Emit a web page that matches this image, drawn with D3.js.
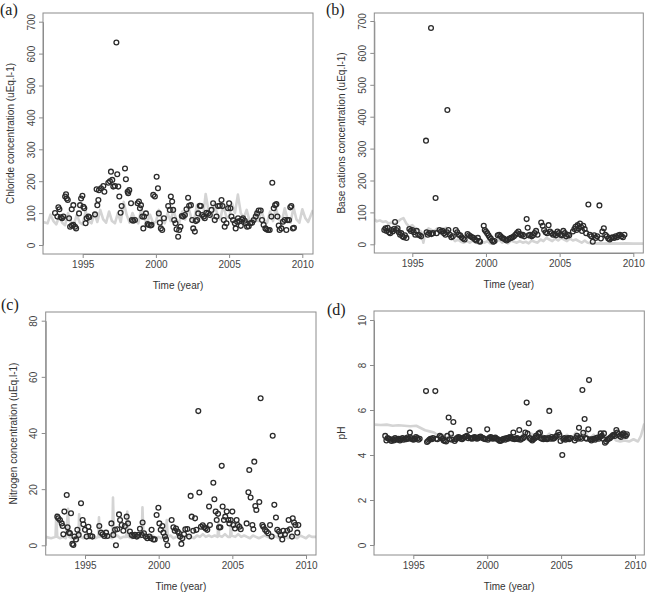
<!DOCTYPE html>
<html><head><meta charset="utf-8">
<script src="https://cdn.jsdelivr.net/npm/d3@7"></script>
<style>body{margin:0;background:#fff}</style>
</head><body>
<svg id="chart" width="649" height="593"></svg>
<script>
// ---------- DATA ----------
const xTicks = [1995, 2000, 2005, 2010];
const chlorideTicks = [0, 100, 200, 300, 400, 500, 600, 700];
const cationTicks = [0, 100, 200, 300, 400, 500, 600, 700];
const nitrogenTicks = [0, 20, 40, 60, 80];
const phTicks = [0, 2, 4, 6, 8, 10];
const panelLabels = ["(a)", "(b)", "(c)", "(d)"];
const yTitles = ["Chloride concentration (uEq.l-1)", "Base cations concentration (uEq.l-1)", "Nitrogen concentration (uEq.l-1)", "pH"];
const xTitle = "Time (year)";

const chlorideObs = [[1993.11,100],[1993.27,89],[1993.34,118],[1993.41,112],[1993.50,87],[1993.59,84],[1993.68,89],[1993.80,152],[1993.86,159],[1993.91,146],[1993.98,141],[1994.07,84],[1994.14,57],[1994.25,61],[1994.25,112],[1994.36,63],[1994.36,125],[1994.48,57],[1994.55,52],[1994.75,99],[1994.82,125],[1994.89,146],[1994.98,154],[1995.05,120],[1995.11,115],[1995.20,68],[1995.27,84],[1995.39,89],[1995.45,87],[1995.84,96],[1995.95,175],[1996.00,125],[1996.07,141],[1996.11,172],[1996.25,178],[1996.41,185],[1996.48,167],[1996.75,195],[1996.86,200],[1996.93,230],[1997.02,204],[1997.09,183],[1997.20,185],[1997.30,635],[1997.36,222],[1997.43,183],[1997.50,152],[1997.59,101],[1997.66,122],[1997.89,240],[1997.95,206],[1998.07,167],[1998.11,162],[1998.18,172],[1998.30,131],[1998.36,78],[1998.45,76],[1998.57,78],[1998.75,131],[1998.84,136],[1998.91,115],[1998.98,125],[1999.07,89],[1999.14,52],[1999.20,89],[1999.32,99],[1999.43,66],[1999.52,63],[1999.64,61],[1999.70,63],[1999.82,157],[1999.93,152],[2000.05,214],[2000.14,178],[2000.20,99],[2000.27,70],[2000.34,52],[2000.43,47],[2000.55,84],[2000.84,122],[2000.95,110],[2001.02,152],[2001.11,136],[2001.18,110],[2001.25,78],[2001.34,68],[2001.41,49],[2001.52,26],[2001.59,47],[2001.68,57],[2001.77,91],[2001.86,89],[2001.98,94],[2002.09,112],[2002.20,148],[2002.27,123],[2002.39,125],[2002.48,78],[2002.55,52],[2002.66,42],[2002.73,75],[2002.82,78],[2002.89,99],[2003.00,123],[2003.07,122],[2003.16,94],[2003.27,89],[2003.34,84],[2003.45,101],[2003.57,99],[2003.68,94],[2003.80,110],[2003.91,131],[2004.02,78],[2004.14,89],[2004.25,122],[2004.36,123],[2004.48,141],[2004.55,122],[2004.64,78],[2004.70,57],[2004.82,68],[2004.93,115],[2005.00,131],[2005.09,115],[2005.16,89],[2005.27,78],[2005.39,68],[2005.45,52],[2005.55,73],[2005.61,84],[2005.70,75],[2005.80,60],[2005.88,80],[2005.95,84],[2006.07,76],[2006.14,68],[2006.23,57],[2006.34,59],[2006.45,68],[2006.57,70],[2006.68,78],[2006.82,89],[2006.91,99],[2007.02,108],[2007.16,108],[2007.25,78],[2007.36,63],[2007.48,52],[2007.55,49],[2007.66,47],[2007.77,47],[2007.89,89],[2007.95,195],[2008.05,115],[2008.14,125],[2008.23,128],[2008.30,89],[2008.39,61],[2008.45,47],[2008.57,52],[2008.68,73],[2008.80,78],[2008.91,47],[2008.98,78],[2009.09,78],[2009.18,118],[2009.25,122],[2009.36,52],[2009.43,54]];

const chlorideLine = [[1992.29,72],[1992.6,68],[1992.8,95],[1993.0,75],[1993.2,65],[1993.4,90],[1993.6,70],[1993.8,62],[1994.0,100],[1994.2,72],[1994.4,65],[1994.6,95],[1994.8,70],[1995.0,65],[1995.2,105],[1995.4,75],[1995.6,68],[1995.8,100],[1996.0,72],[1996.2,110],[1996.4,80],[1996.6,70],[1996.8,105],[1997.0,75],[1997.2,68],[1997.4,100],[1997.6,72],[1997.8,135],[1998.0,95],[1998.2,70],[1998.4,100],[1998.6,78],[1998.8,68],[1999.0,115],[1999.2,82],[1999.4,70],[1999.6,95],[1999.8,70],[2000.0,72],[2000.2,110],[2000.4,80],[2000.6,68],[2000.8,100],[2001.0,75],[2001.2,110],[2001.4,78],[2001.6,70],[2001.8,105],[2002.0,80],[2002.2,120],[2002.4,88],[2002.6,75],[2002.8,125],[2003.0,90],[2003.2,80],[2003.4,160],[2003.6,105],[2003.8,85],[2004.0,130],[2004.2,95],[2004.4,80],[2004.6,125],[2004.8,90],[2005.0,85],[2005.2,130],[2005.4,100],[2005.6,158],[2005.8,100],[2006.0,85],[2006.2,110],[2006.4,75],[2006.6,70],[2006.8,105],[2007.0,75],[2007.2,110],[2007.4,78],[2007.6,70],[2007.8,105],[2008.0,75],[2008.2,115],[2008.4,80],[2008.6,72],[2008.8,115],[2009.0,80],[2009.2,70],[2009.4,118],[2009.6,80],[2009.8,70],[2010.0,112],[2010.2,85],[2010.4,72],[2010.73,110]];

const cationObs = [[1993.10,45],[1993.18,50],[1993.25,42],[1993.33,52],[1993.42,38],[1993.50,35],[1993.58,45],[1993.67,40],[1993.75,48],[1993.83,70],[1993.92,45],[1994.00,50],[1994.08,38],[1994.17,30],[1994.25,35],[1994.33,25],[1994.42,22],[1994.50,28],[1994.60,20],[1994.80,48],[1994.90,42],[1995.00,45],[1995.10,38],[1995.20,30],[1995.30,42],[1995.40,30],[1995.50,28],[1995.60,25],[1995.93,325],[1995.97,38],[1996.05,30],[1996.15,35],[1996.27,678],[1996.30,32],[1996.40,35],[1996.58,145],[1996.65,35],[1996.85,45],[1996.95,40],[1997.05,42],[1997.15,35],[1997.25,30],[1997.35,38],[1997.38,421],[1997.45,45],[1997.55,30],[1997.65,22],[1997.75,25],[1997.95,45],[1998.05,38],[1998.15,30],[1998.25,28],[1998.35,22],[1998.45,18],[1998.55,15],[1998.75,32],[1998.85,28],[1998.95,25],[1999.05,22],[1999.15,20],[1999.25,15],[1999.35,12],[1999.45,20],[1999.55,10],[1999.60,8],[1999.85,58],[1999.92,45],[2000.00,40],[2000.08,35],[2000.17,28],[2000.25,22],[2000.33,18],[2000.42,12],[2000.50,8],[2000.58,10],[2000.80,28],[2000.90,30],[2001.00,25],[2001.10,20],[2001.20,18],[2001.30,15],[2001.40,12],[2001.50,15],[2001.60,18],[2001.70,20],[2001.80,22],[2001.90,25],[2002.00,30],[2002.10,35],[2002.20,40],[2002.30,32],[2002.40,28],[2002.50,30],[2002.60,25],[2002.76,79],[2002.83,52],[2002.90,28],[2003.00,30],[2003.10,25],[2003.20,28],[2003.30,35],[2003.40,42],[2003.50,30],[2003.75,68],[2003.85,58],[2003.95,45],[2004.05,38],[2004.15,35],[2004.25,60],[2004.35,40],[2004.45,35],[2004.55,30],[2004.65,32],[2004.75,28],[2004.85,40],[2004.95,35],[2005.05,30],[2005.15,28],[2005.25,42],[2005.35,35],[2005.45,25],[2005.55,30],[2005.65,28],[2005.90,40],[2006.00,48],[2006.08,55],[2006.15,45],[2006.22,60],[2006.30,50],[2006.38,65],[2006.45,55],[2006.52,42],[2006.60,58],[2006.70,48],[2006.80,35],[2006.95,125],[2007.05,30],[2007.15,25],[2007.25,8],[2007.35,28],[2007.45,20],[2007.55,25],[2007.70,122],[2007.80,18],[2007.90,40],[2008.00,50],[2008.10,30],[2008.20,25],[2008.30,18],[2008.40,15],[2008.50,20],[2008.60,22],[2008.70,20],[2008.80,25],[2008.90,22],[2009.00,28],[2009.10,30],[2009.20,25],[2009.30,22],[2009.40,30]];

const cationLine = [[1992.42,78],[1992.6,72],[1992.8,75],[1993.0,70],[1993.2,72],[1993.4,65],[1993.6,68],[1993.8,62],[1994.0,70],[1994.2,78],[1994.4,82],[1994.6,65],[1994.8,55],[1995.0,60],[1995.2,50],[1995.4,45],[1995.6,40],[1995.75,5],[1995.9,40],[1996.1,50],[1996.3,45],[1996.5,42],[1996.7,50],[1996.9,45],[1997.1,48],[1997.3,52],[1997.5,40],[1997.7,20],[1997.9,10],[1998.1,15],[1998.3,8],[1998.5,5],[1998.7,10],[1998.9,5],[1999.1,12],[1999.3,5],[1999.5,3],[1999.7,8],[1999.9,5],[2000.1,10],[2000.3,3],[2000.5,2],[2000.7,8],[2000.9,15],[2001.1,5],[2001.3,10],[2001.5,3],[2001.7,12],[2001.9,8],[2002.1,5],[2002.3,10],[2002.5,5],[2002.7,8],[2002.9,3],[2003.1,12],[2003.3,8],[2003.5,5],[2003.7,15],[2003.9,10],[2004.1,20],[2004.3,15],[2004.5,10],[2004.7,18],[2004.9,12],[2005.1,20],[2005.3,15],[2005.5,10],[2005.7,18],[2005.9,12],[2006.1,15],[2006.3,10],[2006.5,5],[2006.7,12],[2006.9,5],[2007.1,3],[2007.3,5],[2007.5,2],[2007.7,3],[2008.0,2],[2008.5,3],[2009.0,2],[2009.5,3],[2010.0,2],[2010.68,2]];

const nitrogenObs = [[1993.12,10.2],[1993.19,9.6],[1993.30,9.0],[1993.42,7.8],[1993.48,6.9],[1993.53,3.9],[1993.60,12],[1993.76,17.9],[1993.82,6.4],[1993.91,4.5],[1993.98,4.3],[1994.05,11.4],[1994.14,0.5],[1994.21,0.1],[1994.28,3.1],[1994.39,2.1],[1994.48,5.5],[1994.57,3.7],[1994.73,15],[1994.84,9],[1994.89,7.5],[1995.00,5.5],[1995.11,3.1],[1995.23,6.6],[1995.29,4.9],[1995.38,3.3],[1995.50,3.1],[1995.97,6.9],[1996.09,4.5],[1996.20,3.9],[1996.31,3.3],[1996.43,4.5],[1996.52,3.3],[1996.79,7.8],[1996.92,3.7],[1997.04,5.5],[1997.10,0],[1997.19,5.7],[1997.31,11],[1997.38,9],[1997.49,7.2],[1997.60,5.2],[1997.71,6.9],[1997.83,10.2],[1997.92,7.8],[1998.05,4.9],[1998.17,3.7],[1998.28,3.3],[1998.39,3.7],[1998.51,3.1],[1998.62,3.7],[1998.73,5.9],[1998.85,3.7],[1998.91,8.1],[1999.00,4.3],[1999.12,3.1],[1999.23,2.5],[1999.37,3.1],[1999.46,2.5],[1999.52,5.5],[1999.64,2.1],[1999.73,2.1],[1999.86,10.8],[1999.98,13.4],[2000.05,7.8],[2000.14,5.5],[2000.25,6.9],[2000.32,4.5],[2000.43,3.1],[2000.50,2.1],[2000.59,0],[2000.88,9],[2001.00,6.4],[2001.09,5.2],[2001.18,6],[2001.29,4.9],[2001.38,4.3],[2001.45,3.1],[2001.54,0.5],[2001.61,2.5],[2001.72,3.9],[2001.81,5.7],[2001.95,5.8],[2002.06,3.1],[2002.17,17.6],[2002.24,10.2],[2002.35,5.2],[2002.47,9.6],[2002.56,5.5],[2002.69,47.8],[2002.76,18.8],[2002.87,6.6],[2002.99,7.1],[2003.10,6.4],[2003.19,6],[2003.30,5.5],[2003.42,13.8],[2003.48,7.2],[2003.71,22.3],[2003.78,16.4],[2003.87,12],[2003.94,9],[2004.03,11.2],[2004.10,6.4],[2004.19,6.4],[2004.28,28.3],[2004.34,13.8],[2004.43,9],[2004.52,10.2],[2004.62,12],[2004.73,9],[2004.80,7.8],[2004.89,9],[2005.00,12],[2005.07,7.2],[2005.18,6],[2005.29,9],[2005.36,7.2],[2005.48,6.6],[2005.57,5.7],[2005.97,7.8],[2006.09,18.9],[2006.15,26.8],[2006.24,17],[2006.36,7.2],[2006.43,5.7],[2006.49,29.8],[2006.56,14],[2006.63,12.6],[2006.83,15.4],[2006.92,52.4],[2007.04,7.2],[2007.10,6.6],[2007.22,5.5],[2007.33,4.9],[2007.44,4.3],[2007.56,7.2],[2007.67,3.1],[2007.74,39],[2007.85,14.4],[2007.96,9.9],[2008.05,5.5],[2008.17,4.9],[2008.28,3.7],[2008.39,2.1],[2008.46,5.2],[2008.57,3.9],[2008.73,5.2],[2008.82,9],[2008.91,5.7],[2009.05,3.1],[2009.10,9.6],[2009.19,8.1],[2009.28,7.2],[2009.41,4.5],[2009.48,7.2]];

const nitrogenLine = [[1992.33,3],[1992.7,2.5],[1993.0,3],[1993.05,11],[1993.12,3],[1993.3,2.5],[1993.5,3],[1993.7,2.5],[1993.85,13],[1993.92,3],[1994.1,2.5],[1994.3,3],[1994.55,2],[1994.6,11],[1994.68,3],[1994.9,2.5],[1995.1,3.5],[1995.3,2.5],[1995.5,3],[1995.7,2.5],[1995.9,3],[1995.95,10],[1996.0,3],[1996.2,3.5],[1996.4,2.5],[1996.6,3],[1996.85,2.5],[1996.9,17],[1996.97,3],[1997.2,3.5],[1997.4,2.5],[1997.6,3],[1997.8,3],[1997.87,12],[1997.93,3],[1998.2,2.5],[1998.4,3.5],[1998.6,2.5],[1998.85,3],[1998.9,13.5],[1998.97,3],[1999.2,3],[1999.4,2.5],[1999.6,3.5],[1999.8,2.5],[2000.0,3],[2000.2,2.5],[2000.45,3],[2000.55,9],[2000.62,3],[2000.8,3.5],[2001.0,2.5],[2001.2,3],[2001.4,3.5],[2001.6,2.5],[2001.8,3],[2002.0,3.5],[2002.2,3],[2002.4,2.5],[2002.6,3.5],[2002.8,3],[2003.0,4],[2003.2,3],[2003.4,3.5],[2003.6,3],[2003.8,3.5],[2004.0,3],[2004.05,8],[2004.1,3.5],[2004.3,3],[2004.5,4],[2004.7,3],[2004.85,3],[2004.9,8],[2004.95,3.5],[2005.2,3],[2005.4,4],[2005.6,3],[2005.8,3.5],[2006.0,3],[2006.2,2.5],[2006.4,3.5],[2006.6,3],[2006.8,2.5],[2007.0,3],[2007.2,3.5],[2007.4,3],[2007.6,2.5],[2007.8,3.5],[2008.0,3],[2008.2,2.5],[2008.4,3.5],[2008.6,3],[2008.8,2.5],[2009.0,3.5],[2009.2,3],[2009.4,2.5],[2009.6,3.5],[2009.8,3],[2010.0,2.5],[2010.2,3.5],[2010.4,3],[2010.68,3]];

const phObs = [[1993.10,4.85],[1993.18,4.65],[1993.26,4.75],[1993.35,4.72],[1993.43,4.68],[1993.52,4.62],[1993.60,4.7],[1993.68,4.65],[1993.77,4.75],[1993.85,4.7],[1993.93,4.68],[1994.02,4.72],[1994.10,4.65],[1994.18,4.7],[1994.27,4.75],[1994.35,4.68],[1994.43,4.72],[1994.52,4.7],[1994.60,4.78],[1994.68,4.72],[1994.77,5.0],[1994.85,4.75],[1994.93,4.7],[1995.02,4.68],[1995.10,4.72],[1995.18,4.8],[1995.27,4.75],[1995.35,4.68],[1995.43,4.72],[1995.86,6.84],[1995.93,4.58],[1996.00,4.62],[1996.08,4.68],[1996.16,4.72],[1996.25,4.7],[1996.33,4.75],[1996.49,6.84],[1996.55,4.72],[1996.63,4.7],[1996.80,4.85],[1996.88,4.8],[1996.97,4.72],[1997.05,4.65],[1997.13,4.62],[1997.22,4.6],[1997.30,4.85],[1997.39,5.67],[1997.45,4.7],[1997.55,4.95],[1997.62,4.68],[1997.71,5.47],[1997.80,4.62],[1997.88,4.7],[1997.96,4.75],[1998.05,4.8],[1998.13,4.78],[1998.22,4.72],[1998.30,4.7],[1998.38,4.75],[1998.47,4.8],[1998.55,4.82],[1998.63,4.85],[1998.72,4.75],[1998.79,5.11],[1998.88,4.75],[1998.96,4.72],[1999.05,4.75],[1999.13,4.8],[1999.22,4.78],[1999.30,4.72],[1999.38,4.75],[1999.47,4.8],[1999.55,4.82],[1999.63,4.78],[1999.72,4.75],[1999.80,4.72],[1999.88,4.7],[2000.00,5.14],[2000.05,4.68],[2000.13,4.75],[2000.22,4.8],[2000.30,4.78],[2000.38,4.72],[2000.47,4.75],[2000.55,4.78],[2000.63,4.72],[2000.72,4.7],[2000.80,4.65],[2000.88,4.62],[2000.96,4.65],[2001.05,4.7],[2001.13,4.72],[2001.22,4.68],[2001.30,4.75],[2001.38,4.72],[2001.47,4.78],[2001.55,4.8],[2001.63,4.75],[2001.72,4.72],[2001.77,5.0],[2001.85,4.7],[2001.93,4.72],[2002.02,4.75],[2002.10,4.7],[2002.17,5.11],[2002.25,4.68],[2002.33,4.72],[2002.42,4.75],[2002.50,4.8],[2002.58,5.0],[2002.67,6.33],[2002.73,4.95],[2002.81,5.41],[2002.88,4.75],[2002.96,4.7],[2003.05,4.65],[2003.13,4.7],[2003.22,4.75],[2003.30,4.85],[2003.38,4.8],[2003.47,4.95],[2003.57,5.0],[2003.63,4.75],[2003.72,4.72],[2003.80,4.7],[2003.88,4.75],[2003.97,4.72],[2004.05,4.7],[2004.13,4.75],[2004.20,5.96],[2004.28,4.72],[2004.37,4.8],[2004.45,4.72],[2004.53,4.75],[2004.62,4.8],[2004.70,4.85],[2004.81,5.0],[2004.88,4.9],[2004.96,4.62],[2005.08,4.0],[2005.15,4.7],[2005.22,4.75],[2005.30,4.68],[2005.38,4.72],[2005.47,4.75],[2005.55,4.7],[2005.63,4.75],[2005.92,4.65],[2006.00,4.75],[2006.08,4.85],[2006.14,4.72],[2006.21,5.21],[2006.28,4.78],[2006.36,4.72],[2006.44,6.89],[2006.50,4.99],[2006.59,5.6],[2006.66,4.75],[2006.74,4.72],[2006.84,5.14],[2006.89,7.33],[2006.97,4.7],[2007.05,4.65],[2007.13,4.7],[2007.22,4.72],[2007.30,4.68],[2007.38,4.75],[2007.47,4.78],[2007.55,4.72],[2007.63,4.8],[2007.68,4.96],[2007.75,4.85],[2007.83,4.72],[2007.90,4.96],[2007.97,4.55],[2008.05,4.6],[2008.13,4.68],[2008.22,4.72],[2008.30,4.75],[2008.38,4.8],[2008.47,4.85],[2008.55,4.9],[2008.63,4.85],[2008.74,5.11],[2008.80,5.0],[2008.88,4.93],[2008.96,4.85],[2009.05,4.8],[2009.13,4.9],[2009.22,4.96],[2009.30,4.88],[2009.38,4.85],[2009.45,4.92]];

const phLine = [[1992.34,5.35],[1992.8,5.33],[1993.2,5.35],[1993.6,5.3],[1994.0,5.32],[1994.4,5.3],[1994.8,5.28],[1995.2,5.3],[1995.5,5.2],[1995.8,5.1],[1996.1,5.05],[1996.4,5.0],[1996.7,4.85],[1997.0,4.9],[1997.3,4.75],[1997.6,4.9],[1997.9,4.7],[1998.2,4.8],[1998.5,4.7],[1998.8,4.85],[1999.1,4.65],[1999.4,4.75],[1999.7,4.65],[2000.0,4.8],[2000.3,4.65],[2000.6,4.75],[2000.9,4.6],[2001.2,4.8],[2001.5,4.65],[2001.8,4.85],[2002.1,4.7],[2002.4,4.9],[2002.7,4.7],[2003.0,4.95],[2003.3,4.75],[2003.6,5.0],[2003.9,4.75],[2004.2,4.95],[2004.5,4.7],[2004.8,5.0],[2005.1,4.75],[2005.4,4.9],[2005.7,4.7],[2006.0,5.0],[2006.3,4.75],[2006.6,5.05],[2006.9,4.7],[2007.2,4.9],[2007.5,4.7],[2007.8,5.0],[2008.1,4.7],[2008.4,4.95],[2008.7,4.65],[2009.0,4.6],[2009.3,4.65],[2009.6,4.6],[2009.9,4.7],[2010.2,4.6],[2010.4,4.85],[2010.63,5.4]];

// ---------- LAYOUT ----------
const panels = [
  {obs: chlorideObs, line: chlorideLine, yTicks: chlorideTicks, yDom: [0,700],
   box: [43,13,313,254], xr: [82.7,302.3], yr: [245,21.7], lab: [0,15]},
  {obs: cationObs, line: cationLine, yTicks: cationTicks, yDom: [0,700],
   box: [374.3,13,643.3,253], xr: [412.3,633.3], yr: [244.3,21], lab: [326,15]},
  {obs: nitrogenObs, line: nitrogenLine, yTicks: nitrogenTicks, yDom: [0,80],
   box: [45.7,312,316,555], xr: [85,306], yr: [545.3,320.7], lab: [1,310]},
  {obs: phObs, line: phLine, yTicks: phTicks, yDom: [0,10],
   box: [374,311,644.3,555], xr: [413.3,635], yr: [545,320], lab: [327,315]}
];

const svg = d3.select("#chart");
const sans = "'Liberation Sans', Arial, Helvetica, sans-serif";

panels.forEach((p, i) => {
  const [x0, y0, x1, y1] = p.box;
  const x = d3.scaleLinear().domain([1995, 2010]).range(p.xr);
  const y = d3.scaleLinear().domain(p.yDom).range(p.yr);
  const g = svg.append("g");

  g.append("clipPath").attr("id", "clip" + i)
    .append("rect").attr("x", x0).attr("y", y0).attr("width", x1 - x0).attr("height", y1 - y0);

  // grey model line
  g.append("path").datum(p.line)
    .attr("clip-path", `url(#clip${i})`)
    .attr("fill", "none").attr("stroke", "#d4d4d4").attr("stroke-width", 2.6)
    .attr("stroke-linejoin", "round")
    .attr("d", d3.line().x(d => x(d[0])).y(d => y(d[1])));

  // observations
  g.selectAll("circle.o").data(p.obs).join("circle")
    .attr("class", "o")
    .attr("cx", d => x(d[0])).attr("cy", d => y(d[1])).attr("r", 2.4)
    .attr("fill", "none").attr("stroke", "#2b2b2b").attr("stroke-width", 1.3);

  // box
  g.append("rect").attr("x", x0).attr("y", y0).attr("width", x1 - x0).attr("height", y1 - y0)
    .attr("fill", "none").attr("stroke", "#8c8c8c").attr("stroke-width", 1);

  // x axis
  const xa = g.append("g").attr("transform", `translate(0,${y1})`)
    .call(d3.axisBottom(x).tickValues(xTicks).tickFormat(d3.format("d")).tickSize(4).tickSizeOuter(0).tickPadding(3));
  xa.select(".domain").attr("stroke", "#8c8c8c");
  xa.selectAll(".tick line").attr("stroke", "#8c8c8c");
  xa.selectAll(".tick text").attr("font-family", sans).attr("font-size", 10).attr("fill", "#444");

  // y axis
  const ya = g.append("g").attr("transform", `translate(${x0},0)`)
    .call(d3.axisLeft(y).tickValues(p.yTicks).tickFormat(d3.format("d")).tickSize(4).tickSizeOuter(0));
  ya.select(".domain").attr("stroke", "#8c8c8c");
  ya.selectAll(".tick line").attr("stroke", "#8c8c8c");
  ya.selectAll(".tick text")
    .attr("x", 0).attr("dy", "0.35em")
    .attr("transform", "translate(-12,0) rotate(-90)")
    .attr("text-anchor", "middle")
    .attr("font-family", sans).attr("font-size", 10).attr("fill", "#444");

  // titles
  g.append("text").attr("x", (x0 + x1) / 2).attr("y", y1 + 31).attr("dy", "0.35em")
    .attr("text-anchor", "middle").attr("font-family", sans).attr("font-size", 10).attr("fill", "#333")
    .text(xTitle);
  g.append("text").attr("transform", `translate(${x0 - 32.5},${(y0 + y1) / 2}) rotate(-90)`)
    .attr("dy", "0.35em").attr("text-anchor", "middle")
    .attr("font-family", sans).attr("font-size", 10).attr("fill", "#333")
    .text(yTitles[i]);

  // panel letter
  g.append("text").attr("x", p.lab[0]).attr("y", p.lab[1])
    .attr("font-family", "'Liberation Serif', 'Times New Roman', serif").attr("font-size", 16).attr("fill", "#222")
    .text(panelLabels[i]);
});
</script>
</body></html>
